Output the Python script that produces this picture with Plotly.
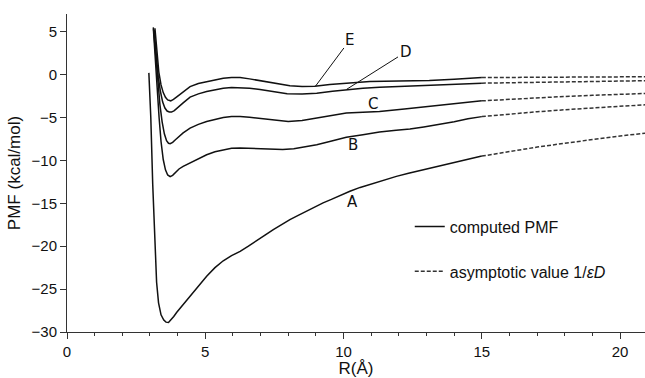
import plotly.graph_objects as go

# ---------------- data ----------------
R_A = [2.96, 3.03, 3.10, 3.17, 3.24, 3.31, 3.40, 3.50, 3.58, 3.67, 3.76, 3.86, 3.97, 4.2, 4.45,
       4.75, 5.05, 5.35, 5.65, 5.95, 6.26, 6.56, 6.86, 7.16, 7.46, 7.76, 8.06, 8.36, 8.66, 8.96,
       9.26, 9.56, 9.87, 10.23, 10.6, 11.0, 11.45, 11.91, 12.35, 12.8, 13.25, 13.72, 14.05, 14.4,
       14.7, 15.0]
PMF_A = [0.2, -5.0, -12.8, -19.8, -24.2, -26.6, -28.0, -28.6, -28.85, -28.9, -28.6, -28.2, -27.7,
         -26.8, -25.8, -24.6, -23.5, -22.5, -21.7, -21.1, -20.6, -20.0, -19.4, -18.7, -18.06,
         -17.45, -16.9, -16.4, -15.9, -15.4, -14.95, -14.55, -14.1, -13.6, -13.15, -12.75, -12.3,
         -11.86, -11.5, -11.15, -10.8, -10.5, -10.2, -9.95, -9.7, -9.5]

R_B = [3.12, 3.19, 3.26, 3.33, 3.40, 3.48, 3.56, 3.64, 3.73, 3.82, 3.92, 4.05, 4.2, 4.45, 4.75,
       5.05, 5.35, 5.65, 5.95, 6.26, 6.6, 6.98, 7.4, 7.8, 8.2, 8.6, 9.03, 9.5, 10.1, 10.7, 11.3,
       11.9, 12.4, 12.9, 13.5, 14.0, 14.5, 15.0]
PMF_B = [5.5, 2.5, -1.5, -5.0, -7.8, -9.9, -11.1, -11.7, -11.9, -11.75, -11.4, -11.0, -10.7,
         -10.3, -9.8, -9.34, -9.0, -8.76, -8.6, -8.56, -8.6, -8.65, -8.7, -8.72, -8.65, -8.45,
         -8.17, -7.8, -7.3, -7.0, -6.7, -6.5, -6.35, -6.1, -5.8, -5.5, -5.15, -4.9]

R_C = [3.13, 3.2, 3.28, 3.36, 3.44, 3.52, 3.6, 3.67, 3.73, 3.82, 3.92, 4.05, 4.2, 4.45, 4.75,
       5.05, 5.35, 5.65, 5.95, 6.26, 6.6, 6.98, 7.5, 8.0, 8.5, 9.03, 9.6, 10.1, 10.7, 11.3, 12.2,
       13.1, 14.0, 14.6, 15.0]
PMF_C = [5.3, 2.5, -0.8, -3.5, -5.5, -6.9, -7.7, -8.0, -8.06, -7.9, -7.6, -7.2, -6.8, -6.24,
         -5.8, -5.46, -5.2, -5.0, -4.9, -4.88, -4.98, -5.1, -5.3, -5.46, -5.35, -5.07, -4.75,
         -4.49, -4.38, -4.3, -4.0, -3.72, -3.43, -3.2, -3.06]

R_D = [3.15, 3.22, 3.3, 3.38, 3.46, 3.54, 3.62, 3.7, 3.78, 3.88, 4.0, 4.2, 4.45, 4.75, 5.05,
       5.35, 5.65, 5.95, 6.26, 6.6, 6.98, 7.5, 7.96, 8.5, 9.03, 9.6, 10.1, 10.7, 11.3, 12.2,
       13.1, 14.0, 14.6, 15.0]
PMF_D = [5.2, 2.5, -0.3, -2.0, -3.2, -3.9, -4.25, -4.36, -4.37, -4.2, -3.9, -3.3, -2.63, -2.25,
         -1.98, -1.75, -1.59, -1.5, -1.51, -1.6, -1.75, -2.0, -2.24, -2.25, -2.17, -1.95, -1.78,
         -1.6, -1.47, -1.35, -1.23, -1.15, -1.08, -1.0]

R_E = [3.18, 3.25, 3.32, 3.4, 3.48, 3.56, 3.64, 3.75, 3.85, 3.97, 4.2, 4.45, 4.75, 5.05, 5.35,
       5.65, 5.95, 6.26, 6.6, 6.98, 7.5, 8.06, 8.5, 8.96, 9.5, 10.1, 10.95, 12.0, 13.1, 14.0,
       14.6, 15.0]
PMF_E = [5.4, 2.5, 0.3, -1.2, -2.1, -2.65, -2.95, -3.06, -2.9, -2.6, -2.0, -1.4, -1.05, -0.81,
         -0.6, -0.42, -0.33, -0.35, -0.5, -0.7, -1.0, -1.3, -1.38, -1.35, -1.15, -1.0, -0.81,
         -0.75, -0.7, -0.55, -0.45, -0.35]

# asymptotic (dashed) continuations
R_ASYM = [15, 16, 17, 18, 19, 20, 21]
ASYM_A = [-9.5, -8.95, -8.45, -8.0, -7.55, -7.15, -6.8]
ASYM_B = [-4.9, -4.6, -4.33, -4.1, -3.88, -3.68, -3.5]
ASYM_C = [-3.06, -2.87, -2.7, -2.55, -2.42, -2.3, -2.19]
ASYM_D = [-1.0, -0.94, -0.88, -0.83, -0.79, -0.75, -0.71]
ASYM_E = [-0.35, -0.33, -0.31, -0.29, -0.28, -0.26, -0.25]

LABELS = ["A", "B", "C", "D", "E"]
X_TICKS = [0, 5, 10, 15, 20]
Y_TICKS = [5, 0, -5, -10, -15, -20, -25, -30]

LEGEND_SOLID = "computed PMF"
LEGEND_DASH = "asymptotic value 1/<i>εD</i>"

# ---------------- figure ----------------
FONT = "Liberation Sans, Arial, sans-serif"
fig = go.Figure()

solid = [(R_E, PMF_E), (R_D, PMF_D), (R_C, PMF_C), (R_B, PMF_B), (R_A, PMF_A)]
for i, (rx, vy) in enumerate(solid):
    fig.add_trace(go.Scatter(
        x=rx, y=vy, mode="lines",
        line=dict(color="#111111", width=1.5),
        name=LEGEND_SOLID, legendgroup="solid", showlegend=(i == 0),
        hoverinfo="skip"))

dashed = [ASYM_E, ASYM_D, ASYM_C, ASYM_B, ASYM_A]
for i, vy in enumerate(dashed):
    fig.add_trace(go.Scatter(
        x=R_ASYM, y=vy, mode="lines",
        line=dict(color="#333333", width=1.5, dash="4px,2px"),
        name=LEGEND_DASH, legendgroup="dash", showlegend=(i == 0),
        hoverinfo="skip"))

LABEL_FONT = dict(family="DejaVu Sans, sans-serif", size=15, color="#111111")
# curve labels (A, B, C directly; D, E with leader lines)
fig.add_annotation(x=10.31, y=-14.8, text=LABELS[0], showarrow=False, font=LABEL_FONT)
fig.add_annotation(x=10.34, y=-8.25, text=LABELS[1], showarrow=False, font=LABEL_FONT)
fig.add_annotation(x=11.07, y=-3.41, text=LABELS[2], showarrow=False, font=LABEL_FONT)
fig.add_annotation(x=10.11, y=-1.72, ax=12.24, ay=2.61, axref="x", ayref="y",
                   text=LABELS[3], showarrow=True, arrowhead=0, arrowwidth=1,
                   arrowcolor="#111111", standoff=0, font=LABEL_FONT)
fig.add_annotation(x=8.99, y=-1.33, ax=10.23, ay=4.04, axref="x", ayref="y",
                   text=LABELS[4], showarrow=True, arrowhead=0, arrowwidth=1,
                   arrowcolor="#111111", standoff=0, font=LABEL_FONT)

fig.update_layout(
    width=645, height=378,
    margin=dict(l=67, r=0, t=14, b=46),
    paper_bgcolor="white", plot_bgcolor="white",
    font=dict(family=FONT, size=15, color="#111111"),
    showlegend=True,
    legend=dict(x=0.593, y=0.385, xanchor="left", yanchor="top",
                bgcolor="rgba(0,0,0,0)", borderwidth=0,
                font=dict(family=FONT, size=16, color="#111111"),
                traceorder="grouped", tracegroupgap=21, itemwidth=30),
)
fig.update_xaxes(
    range=[0, 20.9], tickvals=X_TICKS, ticks="outside", ticklen=6, tickwidth=1,
    tickcolor="#333333", showline=True, linecolor="#333333", linewidth=1,
    showgrid=False, zeroline=False,
    minor=dict(dtick=1, ticks="outside", ticklen=3, tickcolor="#333333", tickwidth=1, showgrid=False),
    title=dict(text="R(Å)", font=dict(family=FONT, size=17), standoff=0),
    tickfont=dict(family=FONT, size=15),
)
fig.update_yaxes(
    range=[-30, 7.06], tickvals=Y_TICKS, ticks="outside", ticklen=6, tickwidth=1,
    tickcolor="#333333", showline=True, linecolor="#333333", linewidth=1,
    showgrid=False, zeroline=False,
    title=dict(text="PMF (kcal/mol)", font=dict(family=FONT, size=17), standoff=6),
    tickfont=dict(family=FONT, size=15),
)

fig.write_html("out.html")
